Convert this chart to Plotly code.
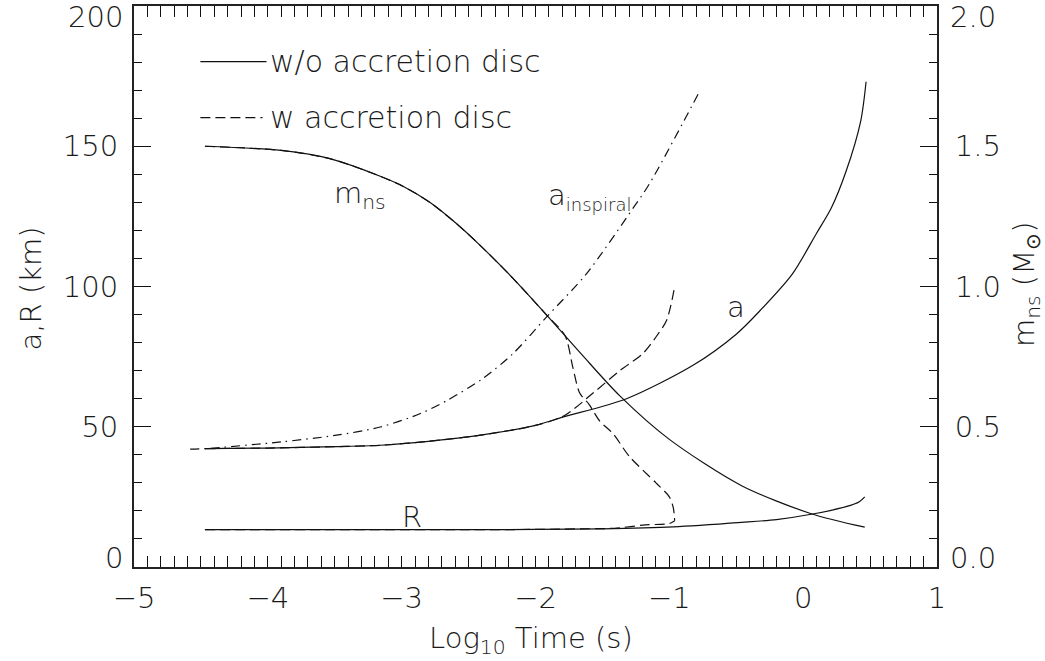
import plotly.graph_objects as go

# Neutron-star mass (solar masses) without accretion disc
t_mns = [-4.47, -3.9, -3.53, -3.16, -2.98, -2.79, -2.6, -2.41, -2.17, -1.92, -1.65, -1.37, -1.0, -0.46, 0.06, 0.46]
mns = [1.50, 1.485, 1.455, 1.393, 1.355, 1.30, 1.228, 1.145, 1.03, 0.90, 0.755, 0.61, 0.455, 0.29, 0.19, 0.142]

# Orbital separation a (km) without accretion disc
t_a = [-4.47, -4.0, -3.5, -3.16, -2.8, -2.41, -2.0, -1.79, -1.32, -0.82, -0.5, -0.33, -0.08, 0.1, 0.21, 0.32, 0.43, 0.47]
a = [42.2, 42.4, 42.9, 43.4, 44.8, 47.0, 50.5, 53.5, 60.0, 72.0, 83.0, 91.0, 104.5, 119.0, 128.0, 141.0, 159.0, 173.0]

# Neutron-star radius R (km) without accretion disc
t_r = [-4.47, -3.5, -2.5, -2.0, -1.5, -0.97, -0.46, -0.2, 0.06, 0.32, 0.42, 0.46]
r = [13.3, 13.3, 13.3, 13.4, 13.6, 14.3, 15.9, 16.9, 18.8, 21.5, 23.3, 25.0]

# Point-mass inspiral separation (km)
t_insp = [-4.58, -4.47, -3.9, -3.5, -3.16, -2.86, -2.66, -2.4, -2.17, -1.92, -1.62, -1.27, -1.15, -0.78]
a_insp = [42.0, 42.2, 44.6, 46.9, 49.9, 54.7, 59.4, 67.0, 76.0, 89.0, 104.5, 128.0, 136.5, 169.0]

# With accretion disc
t_a_disc = [-4.47, -4.0, -3.5, -3.16, -2.8, -2.41, -2.0, -1.79, -1.57, -1.37, -1.2, -1.1, -1.02, -0.96]
a_disc = [42.2, 42.4, 42.9, 43.4, 44.8, 47.0, 50.5, 53.8, 62.0, 70.0, 76.0, 82.0, 88.0, 100.0]

t_mns_disc = [-4.47, -3.9, -3.53, -3.16, -2.98, -2.79, -2.6, -2.41, -2.17, -1.92, -1.78, -1.72, -1.67, -1.6, -1.52, -1.42, -1.3, -1.1, -1.0, -0.97, -0.96]
mns_disc = [1.50, 1.485, 1.455, 1.393, 1.355, 1.30, 1.228, 1.145, 1.03, 0.90, 0.825, 0.71, 0.62, 0.58, 0.52, 0.475, 0.395, 0.30, 0.25, 0.21, 0.165]

t_r_disc = [-4.47, -3.5, -2.5, -2.0, -1.5, -1.41, -1.18, -1.0, -0.96]
r_disc = [13.3, 13.3, 13.3, 13.4, 13.7, 13.8, 15.0, 15.5, 16.5]

x_ticks = [-5, -4, -3, -2, -1, 0, 1]
y_ticks = [0, 50, 100, 150, 200]
y_labels = ["0", "50", "100", "150", "200"]
y2_ticks = [0.0, 0.5, 1.0, 1.5, 2.0]
y2_labels = ["0.0", "0.5", "1.0", "1.5", "2.0"]

FONT = "DejaVu Sans"
INK = "#111111"
TCOL = "#1a1a1a"
TXT = dict(family=FONT, size=29, color=TCOL, weight=200)
LEG = dict(family=FONT, size=30, color=TCOL, weight=200)
LW = 1.2
SMOOTH = 0.8

fig = go.Figure()


def add(x, y, dash="solid", axis="y"):
    fig.add_trace(go.Scatter(x=x, y=y, mode="lines", yaxis=axis, showlegend=False,
                             line=dict(color=INK, width=LW, dash=dash, shape="spline", smoothing=SMOOTH),
                             hoverinfo="skip"))


add(t_a_disc, a_disc, "10px,5px")
add(t_r_disc, r_disc, "10px,5px")
add(t_mns_disc, mns_disc, "10px,5px", "y2")
add(t_insp, a_insp, "9px,5px,1.5px,5px")
add(t_a, a)
add(t_r, r)
add(t_mns, mns, axis="y2")

# Curve labels
labels = [
    (-3.31, 132.5, "m<sub>ns</sub>"),
    (-1.60, 132.0, "a<sub><span style='font-size:18px'>inspiral</span></sub>"),
    (-0.5, 92.6, "a"),
    (-2.92, 17.9, "R"),
]
for x, y, s in labels:
    fig.add_annotation(x=x, y=y, xref="x", yref="y", text=s, showarrow=False, font=TXT)

# Legend drawn as line samples with text
for yv, dash, x1, s in [(180.2, "solid", -4.01, "w/o accretion disc"),
                        (160.2, "10px,5px", -4.04, "w accretion disc")]:
    fig.add_shape(type="line", x0=-4.504, x1=x1, y0=yv, y1=yv, xref="x", yref="y",
                  line=dict(color=INK, width=LW, dash=dash))
    fig.add_annotation(x=-4.0, y=yv, xref="x", yref="y", text=s, showarrow=False,
                       xanchor="left", font=LEG)

# End labels of the two value axes, kept inside the frame
tickfont = dict(family=FONT, size=29, color=TCOL, weight=200)
for i, shift in ((0, -10), (len(y_ticks) - 1, 8)):
    anchor = "bottom" if i == 0 else "top"
    fig.add_annotation(x=0, y=y_ticks[i], xref="paper", yref="y", text=y_labels[i],
                       showarrow=False, xanchor="right", yanchor=anchor, xshift=-9, yshift=shift,
                       font=tickfont)
    fig.add_annotation(x=1, y=y2_ticks[i], xref="paper", yref="y2", text=y2_labels[i],
                       showarrow=False, xanchor="left", yanchor=anchor, xshift=11, yshift=shift,
                       font=tickfont)

# Axis titles
fig.add_annotation(x=0.494, y=-0.13, xref="paper", yref="paper", text="Log<sub>10</sub> Time (s)",
                   showarrow=False, font=TXT, yanchor="middle")
fig.add_annotation(x=-0.128, y=0.497, xref="paper", yref="paper", text="a,R (km)", textangle=-90,
                   showarrow=False, font=TXT, xanchor="center")
fig.add_annotation(x=1.11, y=0.505, xref="paper", yref="paper", text="m<sub>ns</sub> (M<sub>⊙</sub>)",
                   textangle=-90, showarrow=False, font=TXT, xanchor="center")

axline = dict(showline=True, linecolor="#222222", linewidth=2, showgrid=False, zeroline=False)

fig.update_layout(
    width=1045, height=661,
    margin=dict(l=133.5, r=108, t=4.3, b=94),
    paper_bgcolor="white", plot_bgcolor="white",
    xaxis=dict(range=[-5, 1], tickvals=x_ticks, ticks="inside", ticklen=11, tickwidth=1,
               tickcolor=INK, mirror="allticks", tickfont=tickfont, ticklabelstandoff=4,
               minor=dict(dtick=0.1, ticks="inside", ticklen=5, tickwidth=1, tickcolor=INK),
               **axline),
    yaxis=dict(range=[0, 200], tickvals=y_ticks, ticktext=["", "50", "100", "150", ""],
               ticks="inside", ticklen=17, tickwidth=1,
               tickcolor=INK, tickfont=tickfont, ticklabelstandoff=8,
               minor=dict(dtick=10, ticks="inside", ticklen=8, tickwidth=1, tickcolor=INK),
               **axline),
    yaxis2=dict(range=[0, 2], overlaying="y", side="right", tickvals=y2_ticks,
                ticktext=["", "0.5", "1.0", "1.5", ""],
                ticks="inside", ticklen=17, tickwidth=1, tickcolor=INK, tickfont=tickfont,
                ticklabelstandoff=10,
                minor=dict(dtick=0.1, ticks="inside", ticklen=8, tickwidth=1, tickcolor=INK),
                **axline),
)

fig.write_html("out.html")
